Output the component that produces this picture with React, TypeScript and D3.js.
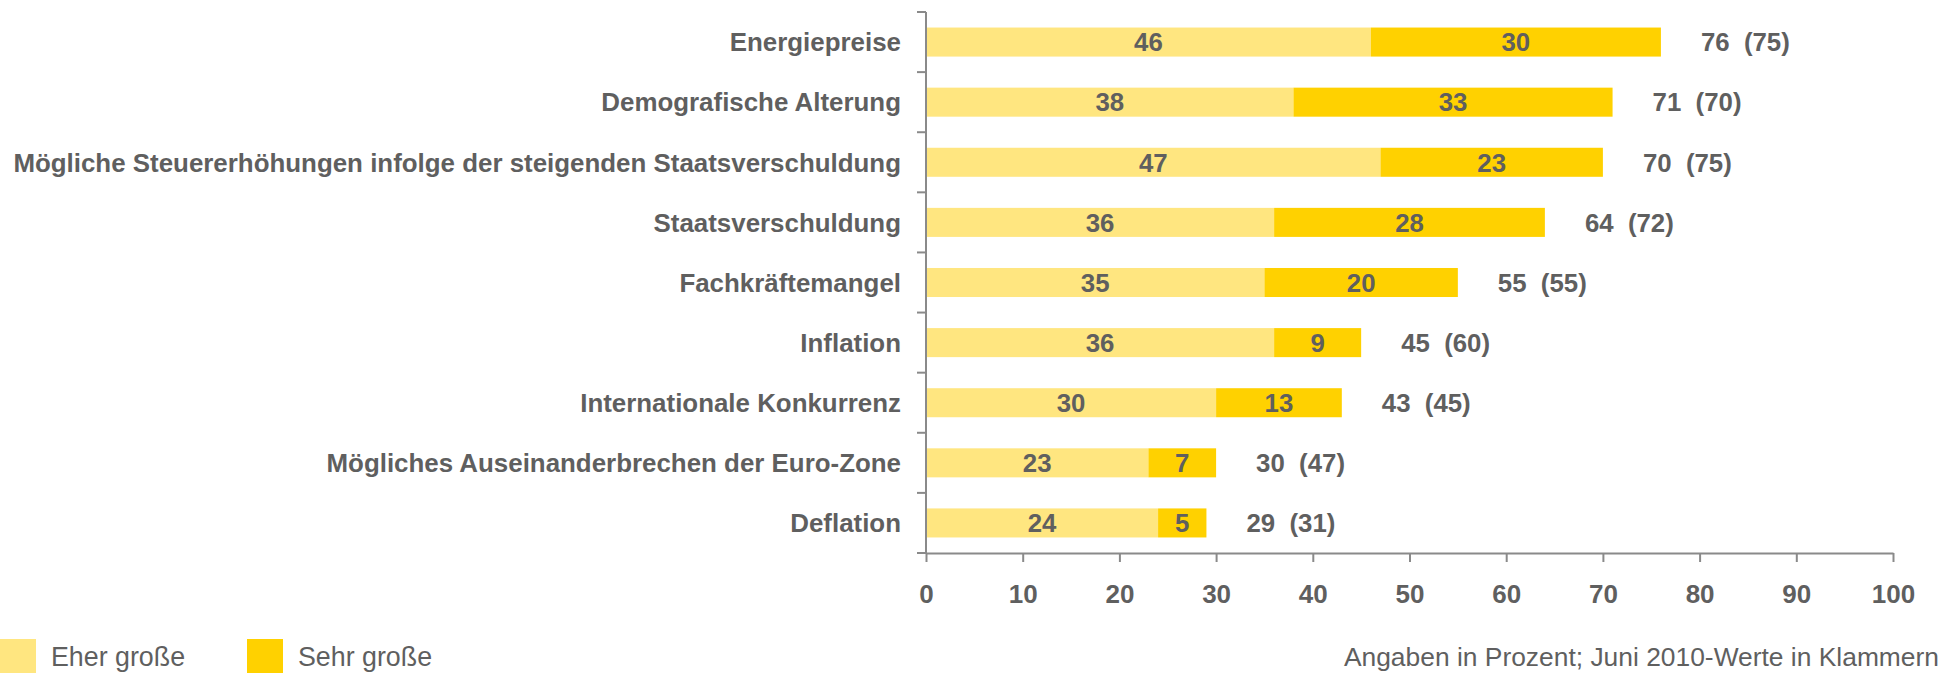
import React, { useEffect, useRef } from 'react';
import * as d3 from 'd3';

const categories = [
  'Energiepreise',
  'Demografische Alterung',
  'Mögliche Steuererhöhungen infolge der steigenden Staatsverschuldung',
  'Staatsverschuldung',
  'Fachkräftemangel',
  'Inflation',
  'Internationale Konkurrenz',
  'Mögliches Auseinanderbrechen der Euro-Zone',
  'Deflation',
];
const eherGross = [46, 38, 47, 36, 35, 36, 30, 23, 24];
const sehrGross = [30, 33, 23, 28, 20, 9, 13, 7, 5];
const juni2010 = [75, 70, 75, 72, 55, 60, 45, 47, 31];
const xTicks = [0, 10, 20, 30, 40, 50, 60, 70, 80, 90, 100];
const seriesNames = ['Eher große', 'Sehr große'];
const footnote = 'Angaben in Prozent; Juni 2010-Werte in Klammern';

const W = 1948;
const H = 673;
const TEXT = '#5f5f5f';
const AXIS = '#8a8a8a';
const colors = ['#ffe680', '#ffd100'];
const FONT = '"Liberation Sans", Arial, sans-serif';

const App = () => {
  const ref = useRef(null);

  useEffect(() => {
    const svg = d3.select(ref.current);
    svg.selectAll('*').remove();

    const x = d3.scaleLinear().domain([0, 100]).range([926, 1893]);
    const y = d3.scaleBand()
      .domain(categories)
      .range([12, 553])
      .paddingInner(0.517)
      .paddingOuter(0.2585);

    const rows = categories.map((c, i) => ({
      cat: c,
      a: eherGross[i],
      b: sehrGross[i],
      prev: juni2010[i],
    }));

    // bars + labels
    const g = svg.append('g');
    rows.forEach((d) => {
      g.append('rect')
        .attr('x', x(0))
        .attr('y', y(d.cat))
        .attr('width', x(d.a) - x(0))
        .attr('height', y.bandwidth())
        .attr('fill', colors[0]);
      g.append('rect')
        .attr('x', x(d.a))
        .attr('y', y(d.cat))
        .attr('width', x(d.a + d.b) - x(d.a))
        .attr('height', y.bandwidth())
        .attr('fill', colors[1]);

      const cy = y(d.cat) + y.bandwidth() / 2;
      const lbl = (tx, t, anchor) => g.append('text')
        .attr('x', tx)
        .attr('y', cy)
        .attr('dy', '0.36em')
        .attr('text-anchor', anchor)
        .attr('font-family', FONT)
        .attr('font-weight', 'bold')
        .attr('font-size', 25.8)
        .attr('fill', TEXT)
        .text(t);
      lbl((x(0) + x(d.a)) / 2, d.a, 'middle');
      lbl((x(d.a) + x(d.a + d.b)) / 2, d.b, 'middle');
      lbl(x(d.a + d.b) + 40, `${d.a + d.b}\u00a0\u00a0(${d.prev})`, 'start');
    });

    // y axis: line with ticks at band boundaries
    const ya = svg.append('g');
    ya.append('line')
      .attr('x1', x(0)).attr('x2', x(0))
      .attr('y1', y.range()[0]).attr('y2', y.range()[1])
      .attr('stroke', AXIS).attr('stroke-width', 2);
    d3.range(categories.length + 1).forEach((i) => {
      const yy = y.range()[0] + i * y.step();
      ya.append('line')
        .attr('x1', x(0) - 9).attr('x2', x(0))
        .attr('y1', yy).attr('y2', yy)
        .attr('stroke', AXIS).attr('stroke-width', 2);
    });
    categories.forEach((c) => {
      ya.append('text')
        .attr('x', x(0) - 25)
        .attr('y', y(c) + y.bandwidth() / 2)
        .attr('dy', '0.36em')
        .attr('text-anchor', 'end')
        .attr('font-family', FONT)
        .attr('font-weight', 'bold')
        .attr('font-size', 25.9)
        .attr('fill', TEXT)
        .text(c);
    });

    // x axis
    const xa = svg.append('g')
      .attr('transform', `translate(0,${y.range()[1]})`)
      .call(d3.axisBottom(x).tickValues(xTicks).tickSize(9).tickSizeOuter(0).tickPadding(23));
    xa.select('.domain').attr('stroke', AXIS).attr('stroke-width', 2);
    xa.selectAll('.tick line').attr('stroke', AXIS).attr('stroke-width', 2);
    xa.selectAll('.tick text')
      .attr('font-family', FONT)
      .attr('font-weight', 'bold')
      .attr('font-size', 26)
      .attr('fill', TEXT);

    // legend
    const legendX = [0, 247];
    seriesNames.forEach((n, i) => {
      svg.append('rect')
        .attr('x', legendX[i]).attr('y', 639)
        .attr('width', 36).attr('height', 34)
        .attr('fill', colors[i]);
      svg.append('text')
        .attr('x', legendX[i] + 51).attr('y', 666)
        .attr('font-family', FONT)
        .attr('font-size', 26.8)
        .attr('fill', TEXT)
        .text(n);
    });

    svg.append('text')
      .attr('x', 1939).attr('y', 666)
      .attr('text-anchor', 'end')
      .attr('font-family', FONT)
      .attr('font-size', 26.4)
      .attr('fill', TEXT)
      .text(footnote);
  }, []);

  return (
    <div style={{ position: 'absolute', left: 0, top: 0 }}>
      <svg ref={ref} width={W} height={H} style={{ display: 'block', background: '#fff' }} />
    </div>
  );
};

export default App;
